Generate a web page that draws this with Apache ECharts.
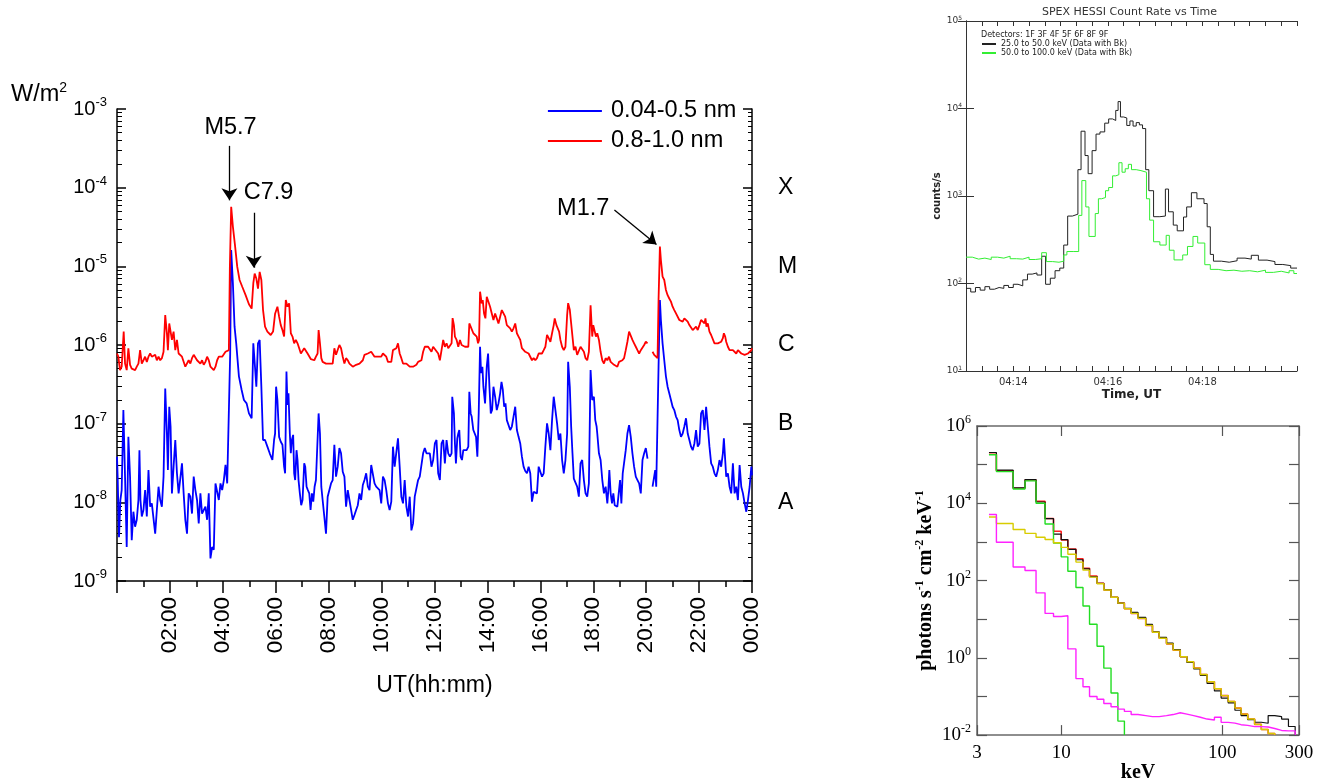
<!DOCTYPE html>
<html><head><meta charset="utf-8">
<script src="https://cdn.jsdelivr.net/npm/echarts@6/dist/echarts.min.js"></script>
<style>html,body{margin:0;padding:0;background:#fff}#c{width:1323px;height:784px}</style>
</head><body><div id="c"></div>
<script>
// ---------- GOES X-ray flux (hours UT, W/m^2) ----------
const goesShort = [ // 0.04-0.5 nm
[0.000,3.8e-8],[0.025,2.1e-8],[0.076,3.6e-9],[0.127,1.07e-8],[0.177,1.43e-8],[0.241,1.49e-7],[0.304,2.1e-8],[0.367,2.7e-9],[0.430,6.8e-8],[0.494,2.1e-8],[0.557,3.3e-9],[0.620,7.6e-9],[0.684,4.9e-9],[0.747,6.0e-9],[0.810,1.07e-8],[0.848,4.6e-8],[0.886,1.07e-8],[0.937,6.6e-9],[1.000,8.0e-9],[1.063,1.43e-8],[1.127,6.6e-9],[1.190,2.57e-8],[1.253,8.8e-9],[1.316,9.7e-9],[1.380,9.7e-9],[1.443,4.0e-9],[1.506,8.0e-9],[1.570,1.58e-8],[1.633,1.07e-8],[1.696,8.8e-9],[1.759,2.12e-8],[1.823,2.8e-7],[1.886,7.5e-8],[1.924,2.57e-8],[1.975,1.64e-7],[2.025,9.2e-8],[2.076,1.3e-8],[2.139,2.84e-8],[2.203,6.2e-8],[2.266,2.34e-8],[2.329,1.3e-8],[2.392,1.3e-8],[2.456,3.13e-8],[2.519,1.3e-8],[2.582,6.0e-9],[2.646,4.0e-9],[2.709,1.3e-8],[2.772,1.18e-8],[2.835,7.2e-9],[2.899,2.12e-8],[2.962,1.43e-8],[3.025,1.07e-8],[3.089,5.4e-9],[3.152,1.3e-8],[3.215,7.2e-9],[3.278,7.2e-9],[3.342,8.8e-9],[3.405,6.0e-9],[3.468,1.3e-8],[3.532,1.94e-9],[3.595,2.7e-9],[3.658,2.5e-9],[3.722,1.74e-8],[3.785,1.83e-8],[3.848,1.07e-8],[3.911,1.74e-8],[3.975,1.43e-8],[4.038,1.92e-8],[4.101,3.0e-8],[4.165,1.74e-8],[4.228,1.83e-8],[4.278,7.8e-7],[4.316,1.61e-5],[4.380,6.1e-6],[4.443,1.71e-6],[4.506,1.05e-6],[4.608,4.0e-7],[4.709,2.7e-7],[4.797,2.0e-7],[4.899,1.81e-7],[4.987,1.35e-7],[5.089,1.17e-7],[5.152,1.05e-6],[5.215,5.3e-7],[5.266,2.95e-7],[5.329,1.05e-6],[5.392,1.16e-6],[5.456,2.95e-7],[5.519,6.2e-8],[5.595,6.2e-8],[5.684,5.1e-8],[5.772,4.2e-8],[5.873,3.45e-8],[5.937,6.2e-8],[5.975,7.5e-8],
[6.013,2.95e-7],[6.063,2.0e-7],[6.127,6.8e-8],[6.190,5.9e-8],[6.253,5.4e-8],[6.316,2.84e-8],[6.354,2.34e-8],[6.405,4.6e-7],[6.443,1.73e-7],[6.481,2.43e-7],[6.532,7.5e-8],[6.570,4.2e-8],[6.608,6.2e-8],[6.658,7.2e-8],[6.696,2.34e-8],[6.734,1.92e-8],[6.785,4.6e-8],[6.823,3.45e-8],[6.861,1.92e-8],[6.911,1.3e-8],[6.962,9.2e-9],[7.013,1.07e-8],[7.076,3.13e-8],[7.114,2.84e-8],[7.165,1.58e-8],[7.215,1.43e-8],[7.266,1.3e-8],[7.316,8.0e-9],[7.367,1.3e-8],[7.418,1.02e-8],[7.468,1.58e-8],[7.519,1.92e-8],[7.582,1.92e-8],[7.620,1.35e-7],[7.671,7.5e-8],[7.722,1.58e-8],[7.772,1.07e-8],[7.835,6.6e-9],[7.899,4.0e-9],[7.962,1.18e-8],[8.025,1.18e-8],[8.089,1.74e-8],[8.152,1.92e-8],[8.215,5.4e-8],[8.278,2.12e-8],[8.342,2.84e-8],[8.405,4.9e-8],[8.468,4.2e-8],[8.532,2.45e-8],[8.595,2.12e-8],[8.658,8.8e-9],[8.722,1.43e-8],[8.785,1.07e-8],[8.848,8.0e-9],[8.911,6.0e-9],[8.975,6.9e-9],[9.038,8.0e-9],[9.101,9.2e-9],[9.165,1.3e-8],[9.228,1.07e-8],[9.291,1.66e-8],[9.354,1.92e-8],[9.418,2.34e-8],[9.481,1.58e-8],[9.544,1.43e-8],[9.608,2.98e-8],[9.671,3.13e-8],[9.734,1.74e-8],[9.797,1.58e-8],[9.861,1.58e-8],[9.924,1.43e-8],[9.987,9.7e-9],[10.051,2.12e-8],[10.114,1.92e-8],[10.177,1.43e-8],[10.241,9.7e-9],[10.304,8.0e-9],[10.367,1.02e-8],[10.430,5.1e-8],[10.494,2.84e-8],[10.557,2.7e-8],[10.620,6.5e-8],[10.684,2.84e-8],[10.747,1.18e-8],[10.810,9.7e-9],[10.873,1.92e-8],[10.937,8.8e-9],[11.000,6.6e-9],[11.063,1.18e-8],[11.127,4.4e-9],[11.190,5.4e-9],[11.253,1.18e-8],[11.316,1.18e-8],[11.380,1.92e-8],[11.443,2.12e-8],[11.506,2.2e-8],[11.570,4.2e-8],[11.633,4.9e-8],[11.696,4.2e-8],[11.759,4.4e-8],[11.823,4.2e-8],[11.886,2.84e-8],[11.949,3.45e-8],[12.013,5.6e-8],[12.076,6.2e-8],
[12.139,2.34e-8],[12.203,1.92e-8],[12.266,5.6e-8],[12.329,6.2e-8],[12.392,3.13e-8],[12.456,6.2e-8],[12.519,4.2e-8],[12.582,3.8e-8],[12.646,4.2e-8],[12.671,2.2e-7],[12.734,1.35e-7],[12.772,5.6e-8],[12.810,3.13e-8],[12.861,6.5e-8],[12.899,7.5e-8],[12.937,8.3e-8],[12.987,3.8e-8],[13.038,3.45e-8],[13.089,4.6e-8],[13.152,4.4e-8],[13.215,4.6e-8],[13.278,5.1e-8],[13.316,2.55e-7],[13.367,1.35e-7],[13.405,1.23e-7],[13.468,8.3e-8],[13.532,8.3e-8],[13.570,6.8e-8],[13.620,3.8e-8],[13.671,1.35e-7],[13.722,9.5e-7],[13.760,4.4e-7],[13.810,5.3e-7],[13.848,2.95e-7],[13.911,1.81e-7],[13.975,5.3e-7],[14.025,7.8e-7],[14.076,2.95e-7],[14.127,1.35e-7],[14.177,1.49e-7],[14.228,2.95e-7],[14.291,2.2e-7],[14.354,1.49e-7],[14.418,1.81e-7],[14.481,2.43e-7],[14.532,3.4e-7],[14.582,2.7e-7],[14.633,1.64e-7],[14.684,1.81e-7],[14.734,1.11e-7],[14.797,1.05e-7],[14.861,8.3e-8],[14.924,9.2e-8],[14.987,1.23e-7],[15.051,1.64e-7],[15.114,8.3e-8],[15.177,6.8e-8],[15.241,5.6e-8],[15.304,3.8e-8],[15.367,2.84e-8],[15.430,2.5e-8],[15.494,2.34e-8],[15.557,2.84e-8],[15.620,2.34e-8],[15.684,1.02e-8],[15.747,1.36e-8],[15.810,1.43e-8],[15.873,1.3e-8],[15.937,2.84e-8],[16.000,2.84e-8],[16.063,2.12e-8],[16.127,2.34e-8],[16.190,5.1e-8],[16.253,1.01e-7],[16.316,7.5e-8],[16.380,4.6e-8],[16.443,1.11e-7],[16.506,2.2e-7],[16.570,1.49e-7],[16.633,1.01e-7],[16.696,6.2e-8],[16.759,7.5e-8],[16.823,3.45e-8],[16.886,2.34e-8],[16.949,3.45e-8],[17.013,7.5e-8],[17.051,6.1e-7],[17.114,2.95e-7],[17.165,9.2e-8],[17.215,4.2e-8],[17.266,2.0e-8],[17.329,2.12e-8],[17.392,1.58e-8],[17.456,1.18e-8],[17.519,3.13e-8],[17.582,3.45e-8],[17.646,1.92e-8],[17.709,1.3e-8],[17.772,1.18e-8],[17.835,1.74e-8],[17.899,4.8e-7],[17.962,2.0e-7],[18.025,2.2e-7],[18.076,1.11e-7],[18.127,9.2e-8],
[18.152,7.5e-8],[18.215,4.2e-8],[18.278,3.45e-8],[18.342,1.92e-8],[18.405,1.3e-8],[18.468,1.58e-8],[18.532,9.7e-9],[18.570,1.43e-8],[18.608,2.57e-8],[18.658,1.3e-8],[18.709,9.7e-9],[18.759,1.3e-8],[18.810,9.2e-9],[18.861,8.8e-9],[18.911,8.8e-9],[18.962,1.3e-8],[19.013,1.92e-8],[19.063,9.7e-9],[19.114,2.34e-8],[19.165,2.45e-8],[19.228,4.6e-8],[19.291,7.5e-8],[19.354,9.6e-8],[19.418,6.8e-8],[19.481,4.2e-8],[19.544,2.84e-8],[19.608,2.12e-8],[19.671,1.92e-8],[19.734,1.74e-8],[19.797,1.3e-8],[19.861,3.45e-8],[19.924,4.2e-8],[19.987,4.9e-8],[20.051,3.6e-8],[20.14,null],[20.241,1.58e-8],[20.304,1.66e-8],[20.342,2.57e-8],[20.380,1.58e-8],[20.430,1.58e-8],[20.468,5.3e-7],[20.519,3.73e-6],[20.557,2.08e-6],[20.620,1.05e-6],[20.684,6.4e-7],[20.747,4.0e-7],[20.810,2.95e-7],[20.873,2.43e-7],[20.937,2.0e-7],[21.000,1.64e-7],[21.063,1.49e-7],[21.127,1.23e-7],[21.190,1.11e-7],[21.253,8.3e-8],[21.316,6.8e-8],[21.380,7.5e-8],[21.443,9.2e-8],[21.506,1.17e-7],[21.570,7.5e-8],[21.633,6.2e-8],[21.696,5.1e-8],[21.759,4.6e-8],[21.823,5.6e-8],[21.886,8.3e-8],[21.949,5.1e-8],[22.013,5.6e-8],[22.076,1.35e-7],[22.139,1.49e-7],[22.203,8.3e-8],[22.266,1.64e-7],[22.329,9.2e-8],[22.392,5.1e-8],[22.456,3.13e-8],[22.519,2.84e-8],[22.582,2.34e-8],[22.646,2.12e-8],[22.709,2.57e-8],[22.772,3.45e-8],[22.835,2.84e-8],[22.899,4.2e-8],[22.937,6.5e-8],[22.987,3.45e-8],[23.025,2.12e-8],[23.089,2.34e-8],[23.152,1.58e-8],[23.215,1.3e-8],[23.278,3.13e-8],[23.342,1.3e-8],[23.405,1.58e-8],[23.468,1.07e-8],[23.532,2.98e-8],[23.595,1.58e-8],[23.658,1.3e-8],[23.722,9.7e-9],[23.785,7.6e-9],[23.848,1.07e-8],[23.911,1.58e-8],[23.975,2.84e-8],[24.000,2.2e-8]
];
const goesLong = [ // 0.8-1.0 nm
[0.000,7.8e-7],[0.051,7.1e-7],[0.114,4.8e-7],[0.177,5.3e-7],[0.253,1.48e-6],[0.304,5.8e-7],[0.367,4.8e-7],[0.430,9.1e-7],[0.494,5.6e-7],[0.557,5.0e-7],[0.620,4.8e-7],[0.684,4.8e-7],[0.747,5.3e-7],[0.810,5.8e-7],[0.873,8.6e-7],[0.937,5.8e-7],[1.000,6.4e-7],[1.063,7.1e-7],[1.127,6.1e-7],[1.190,7.1e-7],[1.253,7.8e-7],[1.316,7.1e-7],[1.380,6.8e-7],[1.443,7.5e-7],[1.506,6.4e-7],[1.570,7.1e-7],[1.633,6.4e-7],[1.696,6.8e-7],[1.759,8.2e-7],[1.823,2.4e-6],[1.886,1.41e-6],[1.924,8.6e-7],[1.975,1.88e-6],[2.025,1.98e-6],[2.076,1.16e-6],[2.139,1.48e-6],[2.203,8.6e-7],[2.266,1.16e-6],[2.329,7.8e-7],[2.392,7.8e-7],[2.456,7.1e-7],[2.519,7.5e-7],[2.582,5.3e-7],[2.646,5.6e-7],[2.709,6.4e-7],[2.772,5.8e-7],[2.835,6.8e-7],[2.899,7.5e-7],[2.962,7.1e-7],[3.025,6.4e-7],[3.089,6.1e-7],[3.152,5.8e-7],[3.215,6.4e-7],[3.278,5.6e-7],[3.342,6.1e-7],[3.405,7.1e-7],[3.468,6.4e-7],[3.532,5.3e-7],[3.595,5.3e-7],[3.658,4.8e-7],[3.722,5.3e-7],[3.785,6.4e-7],[3.848,7.1e-7],[3.911,6.8e-7],[3.975,7.1e-7],[4.038,6.8e-7],[4.101,8.2e-7],[4.165,7.8e-7],[4.228,8.6e-7],[4.266,9.9e-6],[4.316,5.7e-5],[4.380,3.2e-5],[4.456,1.9e-5],[4.544,9.9e-6],[4.633,6.7e-6],[4.734,5.5e-6],[4.861,4.3e-6],[4.987,3.3e-6],[5.089,2.9e-6],[5.152,6.1e-6],[5.203,8.1e-6],[5.266,7.0e-6],[5.329,5.2e-6],[5.392,8.5e-6],[5.456,6.7e-6],[5.519,2.8e-6],[5.595,1.71e-6],[5.684,1.48e-6],[5.810,1.34e-6],[5.899,1.48e-6],[5.975,2.5e-6],
[6.063,3.07e-6],[6.127,2.29e-6],[6.190,1.79e-6],[6.253,1.55e-6],[6.316,1.28e-6],[6.380,3.73e-6],[6.443,3.07e-6],[6.506,3.38e-6],[6.570,1.41e-6],[6.633,1.28e-6],[6.696,1.05e-6],[6.759,1.16e-6],[6.823,1.05e-6],[6.886,9.1e-7],[6.949,7.8e-7],[7.013,8.2e-7],[7.076,9.1e-7],[7.139,8.6e-7],[7.203,7.8e-7],[7.266,7.5e-7],[7.329,6.6e-7],[7.392,6.4e-7],[7.456,6.4e-7],[7.519,7.1e-7],[7.582,7.8e-7],[7.620,1.55e-6],[7.671,1.05e-6],[7.722,6.8e-7],[7.772,6.1e-7],[7.835,5.8e-7],[7.899,5.8e-7],[7.962,5.6e-7],[8.025,5.8e-7],[8.089,6.1e-7],[8.152,5.8e-7],[8.215,9.1e-7],[8.278,7.5e-7],[8.342,7.5e-7],[8.405,1.0e-6],[8.468,9.1e-7],[8.532,7.1e-7],[8.595,5.8e-7],[8.658,6.8e-7],[8.722,6.4e-7],[8.785,5.8e-7],[8.848,5.6e-7],[8.911,5.3e-7],[8.975,5.3e-7],[9.038,5.6e-7],[9.101,5.8e-7],[9.165,5.8e-7],[9.228,6.1e-7],[9.291,6.4e-7],[9.354,7.5e-7],[9.418,7.5e-7],[9.481,7.8e-7],[9.544,7.5e-7],[9.608,8.2e-7],[9.671,7.8e-7],[9.734,7.1e-7],[9.797,7.5e-7],[9.861,7.1e-7],[9.924,6.8e-7],[9.987,7.1e-7],[10.051,7.8e-7],[10.114,7.8e-7],[10.177,7.1e-7],[10.241,6.1e-7],[10.304,6.1e-7],[10.367,6.1e-7],[10.430,8.6e-7],[10.494,8.2e-7],[10.557,9.1e-7],[10.620,1.05e-6],[10.684,7.8e-7],[10.747,6.8e-7],[10.810,5.8e-7],[10.873,6.1e-7],[10.937,5.8e-7],[11.000,5.9e-7],[11.063,5.3e-7],[11.127,5.0e-7],[11.190,5.3e-7],[11.253,5.6e-7],[11.316,5.6e-7],[11.380,6.1e-7],[11.443,6.4e-7],[11.506,6.4e-7],[11.570,8.2e-7],[11.633,9.5e-7],[11.696,1.0e-6],[11.759,9.5e-7],[11.823,9.1e-7],[11.886,8.2e-7],[11.949,9.5e-7],[12.013,9.5e-7],
[12.139,7.8e-7],[12.203,6.4e-7],[12.266,8.6e-7],[12.329,1.16e-6],[12.392,9.5e-7],[12.456,1.05e-6],[12.519,9.1e-7],[12.582,9.5e-7],[12.646,1.05e-6],[12.684,2.2e-6],[12.734,1.79e-6],[12.772,1.28e-6],[12.835,1.16e-6],[12.899,9.5e-7],[12.962,1.16e-6],[13.025,1.0e-6],[13.089,9.5e-7],[13.152,9.5e-7],[13.215,9.5e-7],[13.278,9.5e-7],[13.316,1.88e-6],[13.367,1.71e-6],[13.405,1.71e-6],[13.468,1.41e-6],[13.532,1.34e-6],[13.595,1.28e-6],[13.646,1.05e-6],[13.684,1.16e-6],[13.722,4.76e-6],[13.785,3.38e-6],[13.823,3.73e-6],[13.873,2.52e-6],[13.924,2.18e-6],[13.975,4.1e-6],[14.038,3.9e-6],[14.101,3.07e-6],[14.165,2.52e-6],[14.228,2.08e-6],[14.291,2.52e-6],[14.354,2.18e-6],[14.418,1.88e-6],[14.481,2.29e-6],[14.544,2.78e-6],[14.608,2.52e-6],[14.671,2.29e-6],[14.734,1.79e-6],[14.797,1.71e-6],[14.861,1.63e-6],[14.924,1.48e-6],[14.987,1.63e-6],[15.051,1.88e-6],[15.114,1.41e-6],[15.177,1.28e-6],[15.241,1.16e-6],[15.304,9.1e-7],[15.367,8.6e-7],[15.430,8.2e-7],[15.494,8.6e-7],[15.557,7.8e-7],[15.620,7.5e-7],[15.684,6.4e-7],[15.747,6.8e-7],[15.810,6.4e-7],[15.873,6.8e-7],[15.937,7.8e-7],[16.000,8.2e-7],[16.063,7.8e-7],[16.127,8.6e-7],[16.190,9.5e-7],[16.253,1.34e-6],[16.316,1.22e-6],[16.380,1.1e-6],[16.443,1.41e-6],[16.506,1.79e-6],[16.544,2.18e-6],[16.608,1.79e-6],[16.658,1.71e-6],[16.709,1.48e-6],[16.759,1.16e-6],[16.823,9.5e-7],[16.886,8.6e-7],[16.949,9.5e-7],[17.013,2.4e-6],[17.051,3.4e-6],[17.114,2.8e-6],[17.165,1.88e-6],[17.266,8.6e-7],[17.329,9.5e-7],[17.392,7.5e-7],[17.456,7.1e-7],[17.519,9.5e-7],[17.582,1.0e-6],[17.646,8.2e-7],[17.709,6.8e-7],[17.772,6.4e-7],[17.835,8.2e-7],[17.899,3.2e-6],[17.962,1.28e-6],[18.000,1.79e-6],[18.051,1.79e-6],[18.101,1.28e-6],[18.152,1.41e-6],
[18.215,1.16e-6],[18.278,8.2e-7],[18.342,6.4e-7],[18.405,5.8e-7],[18.468,6.8e-7],[18.532,6.4e-7],[18.595,7.1e-7],[18.658,6.1e-7],[18.722,5.8e-7],[18.785,5.6e-7],[18.848,5.8e-7],[18.911,5.3e-7],[18.975,6.1e-7],[19.038,5.8e-7],[19.101,6.4e-7],[19.165,6.8e-7],[19.228,8.6e-7],[19.291,1.1e-6],[19.354,1.48e-6],[19.418,1.41e-6],[19.481,1.16e-6],[19.544,1.05e-6],[19.608,9.5e-7],[19.671,8.6e-7],[19.734,7.8e-7],[19.797,8.6e-7],[19.861,9.1e-7],[19.924,1.0e-6],[19.987,1.1e-6],[20.051,1.05e-6],[20.14,null],[20.241,8.2e-7],[20.304,7.5e-7],[20.367,7.1e-7],[20.430,6.8e-7],[20.468,3.73e-6],[20.519,1.78e-5],[20.557,1.2e-5],[20.620,7.4e-6],[20.684,6.7e-6],[20.747,5.0e-6],[20.810,4.3e-6],[20.873,3.9e-6],[20.937,3.56e-6],[21.000,3.07e-6],[21.063,2.78e-6],[21.127,2.52e-6],[21.190,2.4e-6],[21.253,2.08e-6],[21.316,1.98e-6],[21.380,1.98e-6],[21.443,2.18e-6],[21.506,2.18e-6],[21.570,1.98e-6],[21.633,1.79e-6],[21.696,1.71e-6],[21.759,1.55e-6],[21.823,1.63e-6],[21.886,1.71e-6],[21.949,1.55e-6],[22.013,1.79e-6],[22.076,2.08e-6],[22.139,2.18e-6],[22.203,1.88e-6],[22.241,2.18e-6],[22.278,1.71e-6],[22.329,1.88e-6],[22.392,1.48e-6],[22.456,1.34e-6],[22.519,1.28e-6],[22.582,1.05e-6],[22.646,1.05e-6],[22.709,1.05e-6],[22.772,1.05e-6],[22.835,1.1e-6],[22.899,1.22e-6],[22.937,1.41e-6],[22.987,1.28e-6],[23.025,1.1e-6],[23.089,9.5e-7],[23.152,8.6e-7],[23.215,8.2e-7],[23.278,8.6e-7],[23.342,8.2e-7],[23.405,7.8e-7],[23.468,8.6e-7],[23.532,8.2e-7],[23.595,7.8e-7],[23.658,8.2e-7],[23.722,7.5e-7],[23.785,7.1e-7],[23.848,7.8e-7],[23.911,8.2e-7],[23.975,8.6e-7],[24.000,9.1e-7]
];
const hourTicks = [2,4,6,8,10,12,14,16,18,20,22,24];
const flareClasses = {'-4':'X','-5':'M','-6':'C','-7':'B','-8':'A'};
const flareNotes = [ // label, label position [h, flux], arrow start, arrow end
  {name:'M5.7', at:[4.29,5.9e-4], from:[4.25,3.4e-4], to:[4.25,6.9e-5]},
  {name:'C7.9', at:[5.73,8.8e-5], from:[5.17,4.8e-5], to:[5.17,9.6e-6]},
  {name:'M1.7', at:[17.62,5.5e-5], from:[18.80,5.2e-5], to:[20.39,1.9e-5]}
];

// ---------- RHESSI count rate (seconds after 04:13:00 UT, counts/s) ----------
const hessiLow = [ // 25-50 keV
[0,88],[6,80],[12,90],[18,84],[24,92],[30,86],[36,90],[42,88],[48,95],[54,90],[60,98],[66,94],[72,110],[78,128],[84,132],[90,125],[96,205],[101,98],[107,115],[113,140],[119,150],[124,275],[129,590],[135,620],[142,2000],[146,5500],[151,2900],[155,1800],[160,3300],[165,5100],[170,5400],[176,6800],[181,7600],[186,7300],[190,9500],[193,12000],[196,8000],[200,7800],[204,6400],[208,7200],[212,6300],[216,6900],[220,6500],[224,5900],[228,2000],[232,1150],[238,580],[246,590],[253,1200],[257,660],[263,465],[268,400],[276,575],[280,750],[286,1090],[293,930],[302,820],[306,445],[310,215],[314,180],[324,175],[334,182],[344,195],[354,190],[362,210],[371,185],[382,178],[392,165],[402,160],[412,150],[420,150]
];
const hessiHigh = [ // 50-100 keV
[0,200],[8,190],[16,195],[24,188],[32,200],[40,195],[48,205],[56,192],[64,190],[72,200],[80,188],[88,192],[96,225],[102,178],[110,175],[118,180],[124,212],[128,232],[136,232],[143,600],[147,1500],[152,750],[156,345],[164,630],[168,930],[172,960],[177,1150],[181,1250],[186,1700],[190,1750],[194,2400],[198,1870],[202,2050],[206,2300],[210,2000],[216,1950],[222,1870],[229,930],[233,530],[238,300],[246,275],[254,355],[258,240],[264,186],[275,212],[281,265],[288,345],[294,290],[303,164],[310,145],[320,140],[330,142],[340,138],[350,140],[360,136],[370,142],[380,134],[390,138],[400,132],[410,140],[416,130],[420,130]
];
const hessiTimeLabels = {60:'04:14', 180:'04:16', 300:'04:18'};

// ---------- Photon spectrum (bin edges keV, photons s^-1 cm^-2 keV^-1) ----------
const specEdges = [3.56,3.96,5.03,5.96,6.98,7.94,8.96,10.0,11.0,12.35,13.66,15.0,16.7,18.4,20.4,22.5,24.7,27.2,30.0,33.5,36.9,40.6,45.1,49.6,54.9,60.4,66.5,73.2,80.6,89.5,98.5,109,120,131,144,159,175,193,212,234,258,284];
const specObserved = [2.06e5,7.2e4,2.5e4,4.1e4,1.08e4,4.0e3,1.6e3,1.14e3,640,345,201,127,85,58,37,26,19,15,11.2,7.3,4.7,3.4,2.4,1.64,1.07,0.76,0.52,0.35,0.217,0.139,0.091,0.068,0.044,0.032,0.025,0.0215,0.0203,0.032,0.030,0.026,0.0167];
const specModel = [1.85e5,6.9e4,2.45e4,4.0e4,1.13e4,4.05e3,1.88e3,1.13e3,655,366,208,130,85,57.5,37,26,18.6,14.1,10.5,6.9,4.6,3.2,2.3,1.58,1.07,0.79,0.54,0.37,0.24,0.158,0.105,0.074,0.050,0.035,0.026,0.019,0.014,0.011];
const specThermal = [1.8e5,6.6e4,2.35e4,3.8e4,1.0e4,2.9e3,930,410,174,66,22,7.4,2.0,0.54,0.123,0.023];
const specNonthermal = [4.4e3,3.0e3,2.1e3,1.66e3,1.32e3,1.15e3,950,720,480,300,186,123,83,57,37,26,18.6,14.1,10.5,6.9,4.6,3.2,2.3,1.58,1.07,0.79,0.54,0.37,0.24,0.158,0.105,0.074,0.050,0.035,0.026,0.019,0.014,0.011];
const specBackground = [5.1e3,980,224,182,48,14.1,11.7,12.3,1.7,0.29,0.178,0.10,0.085,0.066,0.054,0.047,0.041,0.034,0.032,0.030,0.030,0.032,0.034,0.038,0.035,0.032,0.029,0.026,0.0245,0.029,0.0214,0.0204,0.0186,0.0178,0.0166,0.0166,0.0162,0.0148,0.0132,0.0129,0.0129];
const specFloor = 0.01;
const keVLabels = [3,10,100,300];

// ---------- helpers ----------
const SANS = 'Liberation Sans, Arial, sans-serif';
const SERIF = 'Liberation Serif, DejaVu Serif, serif';
const expOf = v => Math.round(Math.log10(v));
const pow10 = v => '10{sup|' + expOf(v) + '}';
function hist(vals, drop) {
  const d = vals.map((v, i) => [specEdges[i], v]);
  d.push([specEdges[vals.length], vals[vals.length - 1]]);
  if (drop) d.push([specEdges[vals.length], specFloor]);
  return d;
}
const pad2 = n => (n < 10 ? '0' : '') + n;

const chart = echarts.init(document.getElementById('c'), null, {renderer: 'canvas'});
const frameA = {color: '#333', width: 1};
const frameB = {color: '#6a6a6a', width: 1.5};

const option = {
  animation: false,
  backgroundColor: '#fff',
  textStyle: {fontFamily: SANS},
  title: [
    {text: 'W/m{sup|2}', left: 6, top: 76, textStyle: {fontSize: 23.5, fontWeight: 'normal', color: '#000', fontFamily: SANS, lineHeight: 28, rich: {sup: {fontSize: 14, verticalAlign: 'top', color: '#000', fontFamily: SANS}}}},
    {text: 'SPEX HESSI Count Rate vs Time', left: 1037, top: 2, textStyle: {fontSize: 11, fontWeight: 'normal', color: '#333', fontFamily: 'DejaVu Sans'}},
    {text: 'Detectors: 1F 3F 4F 5F 6F 8F 9F', left: 976, top: 26, textStyle: {fontSize: 8, fontWeight: 'normal', color: '#222', fontFamily: 'DejaVu Sans'}}
  ],
  legend: [
    {data: ['0.04-0.5 nm', '0.8-1.0 nm'], orient: 'vertical', left: 542, top: 94, itemWidth: 54, itemHeight: 14, itemGap: 6, selectedMode: false,
     itemStyle: {opacity: 0}, lineStyle: {width: 1.8},
     textStyle: {fontSize: 23.5, color: '#000', fontFamily: SANS, padding: [0, 0, 0, 4]}},
    {data: ['25.0 to 50.0 keV (Data with Bk)', '50.0 to 100.0 keV (Data with Bk)'], orient: 'vertical', left: 976, top: 35, itemWidth: 14, itemHeight: 6, itemGap: 1, selectedMode: false,
     itemStyle: {opacity: 0},
     textStyle: {fontSize: 8, color: '#222', fontFamily: 'DejaVu Sans'}}
  ],
  grid: [
    {left: 117, top: 109, width: 635, height: 472},
    {left: 966, top: 21, width: 331, height: 350},
    {left: 977, top: 426, width: 322, height: 319}
  ],
  xAxis: [
    {gridIndex: 0, type: 'value', min: 0, max: 24, interval: 2,
     axisLine: {lineStyle: {color: '#000', width: 1.5}},
     axisTick: {length: 12, lineStyle: {color: '#000', width: 1.5}},
     minorTick: {show: true, splitNumber: 2, length: 6, lineStyle: {color: '#000', width: 1.5}},
     splitLine: {show: false},
     axisLabel: {rotate: 90, margin: 16, fontSize: 22.5, color: '#000', fontFamily: SANS, interval: 0, showMinLabel: false,
       formatter: v => hourTicks.includes(v) ? pad2(v % 24) + ':00' : ''},
     name: 'UT(hh:mm)', nameLocation: 'middle', nameGap: 93, nameTextStyle: {fontSize: 23, color: '#000', fontFamily: SANS}},
    {gridIndex: 1, type: 'value', min: 0, max: 420, interval: 20,
     axisLine: {lineStyle: frameA}, axisTick: {inside: true, length: 5, lineStyle: frameA},
     splitLine: {show: false},
     axisLabel: {interval: 0, fontSize: 10, color: '#333', margin: 6, fontFamily: 'DejaVu Sans', formatter: v => hessiTimeLabels[v] || ''},
     name: 'Time, UT', nameLocation: 'middle', nameGap: 18, nameTextStyle: {fontSize: 12, fontWeight: 'bold', color: '#222', fontFamily: 'DejaVu Sans'}},
    {gridIndex: 1, type: 'value', position: 'top', min: 0, max: 420, interval: 20,
     axisLine: {lineStyle: frameA}, axisTick: {inside: true, length: 5, lineStyle: frameA},
     splitLine: {show: false}, axisLabel: {show: false}},
    {gridIndex: 2, type: 'log', logBase: 10, min: 3, max: 300,
     axisLine: {lineStyle: frameB}, axisTick: {inside: true, length: 10, lineStyle: {color: '#555', width: 1.2}},
     splitLine: {show: false},
     axisLabel: {fontFamily: SERIF, fontSize: 19, color: '#000', margin: 8, showMinLabel: true, showMaxLabel: true,
       formatter: v => { const r = Math.round(v); return keVLabels.includes(r) ? String(r) : ''; }},
     name: 'keV', nameLocation: 'middle', nameGap: 22, nameTextStyle: {fontFamily: SERIF, fontSize: 20, fontWeight: 'bold', color: '#000'}},
    {gridIndex: 2, type: 'log', logBase: 10, min: 3, max: 300, position: 'top',
     axisLine: {lineStyle: frameB}, axisTick: {inside: true, length: 10, lineStyle: {color: '#555', width: 1.2}},
     splitLine: {show: false}, axisLabel: {show: false}}
  ],
  yAxis: [
    {gridIndex: 0, type: 'log', logBase: 10, min: 1e-9, max: 1e-3, splitNumber: 6,
     axisLine: {show: true, lineStyle: {color: '#000', width: 1.5}},
     axisTick: {inside: true, length: 9, lineStyle: {color: '#000', width: 1.5}},
     minorTick: {show: true, splitNumber: 9, length: 5, lineStyle: {color: '#000', width: 1}},
     splitLine: {show: false},
     axisLabel: {formatter: pow10, fontSize: 20, color: '#000', margin: 10, lineHeight: 26, fontFamily: SANS,
       rich: {sup: {fontSize: 13, verticalAlign: 'top', color: '#000', fontFamily: SANS}}}},
    {gridIndex: 0, type: 'log', logBase: 10, min: 1e-9, max: 1e-3, splitNumber: 6, position: 'right',
     axisLine: {show: true, lineStyle: {color: '#000', width: 1.5}},
     axisTick: {inside: true, length: 9, lineStyle: {color: '#000', width: 1.5}},
     minorTick: {show: true, splitNumber: 9, length: 4, lineStyle: {color: '#000', width: 1}},
     splitLine: {show: false},
     axisLabel: {formatter: v => flareClasses[String(expOf(v))] || '', fontSize: 23, color: '#000', margin: 26, fontFamily: SANS}},
    {gridIndex: 1, type: 'log', logBase: 10, min: 10, max: 1e5, splitNumber: 4,
     axisLine: {show: true, lineStyle: frameA}, axisTick: {inside: true, length: 8, lineStyle: frameA},
     splitLine: {show: false},
     axisLabel: {formatter: pow10, fontSize: 9, color: '#333', margin: 4, lineHeight: 12, fontFamily: 'DejaVu Sans',
       rich: {sup: {fontSize: 6, verticalAlign: 'top', color: '#333'}}},
     name: 'counts/s', nameLocation: 'middle', nameGap: 20, nameTextStyle: {fontSize: 10, fontWeight: 'bold', color: '#222', fontFamily: 'DejaVu Sans'}},
    {gridIndex: 1, type: 'log', logBase: 10, min: 10, max: 1e5, splitNumber: 4, position: 'right',
     axisLine: {show: true, lineStyle: frameA}, axisTick: {inside: true, length: 8, lineStyle: frameA},
     splitLine: {show: false}, axisLabel: {show: false}},
    {gridIndex: 2, type: 'log', logBase: 10, min: 1e-2, max: 1e6, splitNumber: 8,
     axisLine: {show: true, lineStyle: frameB}, axisTick: {inside: true, length: 10, lineStyle: {color: '#555', width: 1.2}},
     splitLine: {show: false},
     axisLabel: {formatter: v => expOf(v) % 2 === 0 ? pow10(v) : '', fontSize: 19, color: '#000', margin: 6, lineHeight: 24, fontFamily: SERIF,
       rich: {sup: {fontSize: 12, verticalAlign: 'top', color: '#000', fontFamily: SERIF}}},
     name: 'photons s{sup|-1} cm{sup|-2} keV{sup|-1}', nameLocation: 'middle', nameGap: 38,
     nameTextStyle: {fontFamily: SERIF, fontSize: 20, fontWeight: 'bold', color: '#000', lineHeight: 24,
       rich: {sup: {fontSize: 12, verticalAlign: 'top', fontWeight: 'bold', color: '#000', fontFamily: SERIF}}}},
    {gridIndex: 2, type: 'log', logBase: 10, min: 1e-2, max: 1e6, splitNumber: 8, position: 'right',
     axisLine: {show: true, lineStyle: frameB}, axisTick: {inside: true, length: 10, lineStyle: {color: '#555', width: 1.2}},
     splitLine: {show: false}, axisLabel: {show: false}}
  ],
  series: [
    {name: '0.04-0.5 nm', type: 'line', xAxisIndex: 0, yAxisIndex: 0, data: goesShort, symbol: 'none', connectNulls: false,
     lineStyle: {color: '#0000ff', width: 1.8}, itemStyle: {color: '#0000ff'}},
    {name: '0.8-1.0 nm', type: 'line', xAxisIndex: 0, yAxisIndex: 0, data: goesLong, symbol: 'none', connectNulls: false,
     lineStyle: {color: '#ff0000', width: 1.8}, itemStyle: {color: '#ff0000'},
     markLine: {silent: true, symbol: ['none', 'arrow'], symbolSize: 12, label: {show: false},
       lineStyle: {color: '#000', width: 1.3, type: 'solid'},
       data: flareNotes.map(n => [{coord: n.from}, {coord: n.to}])},
     markPoint: {silent: true, symbol: 'rect', symbolSize: 1, itemStyle: {color: 'rgba(0,0,0,0)'},
       label: {show: true, position: 'inside', color: '#000', fontSize: 23.5, fontFamily: SANS, formatter: p => p.name},
       data: flareNotes.map(n => ({name: n.name, coord: n.at}))}},
    {name: '25.0 to 50.0 keV (Data with Bk)', type: 'line', step: 'end', xAxisIndex: 1, yAxisIndex: 2, data: hessiLow, symbol: 'none',
     lineStyle: {color: '#222', width: 1}, itemStyle: {color: '#222'}},
    {name: '50.0 to 100.0 keV (Data with Bk)', type: 'line', step: 'end', xAxisIndex: 1, yAxisIndex: 2, data: hessiHigh, symbol: 'none',
     lineStyle: {color: '#33ee33', width: 1}, itemStyle: {color: '#33ee33'}},
    {name: 'Model total', type: 'line', step: 'end', xAxisIndex: 3, yAxisIndex: 4, data: hist(specModel, true), symbol: 'none',
     lineStyle: {color: '#ff2020', width: 1.6}},
    {name: 'Observed', type: 'line', step: 'end', xAxisIndex: 3, yAxisIndex: 4, data: hist(specObserved, true), symbol: 'none',
     lineStyle: {color: '#111', width: 1.2}},
    {name: 'Thermal', type: 'line', step: 'end', xAxisIndex: 3, yAxisIndex: 4, data: hist(specThermal, true), symbol: 'none',
     lineStyle: {color: '#22dd22', width: 1.4}},
    {name: 'Non-thermal', type: 'line', step: 'end', xAxisIndex: 3, yAxisIndex: 4, data: hist(specNonthermal, true), symbol: 'none',
     lineStyle: {color: '#d8cc00', width: 1.4}},
    {name: 'Background', type: 'line', step: 'end', xAxisIndex: 3, yAxisIndex: 4, data: hist(specBackground, true), symbol: 'none',
     lineStyle: {color: '#ff22ff', width: 1.4}}
  ]
};
chart.setOption(option);
</script></body></html>
